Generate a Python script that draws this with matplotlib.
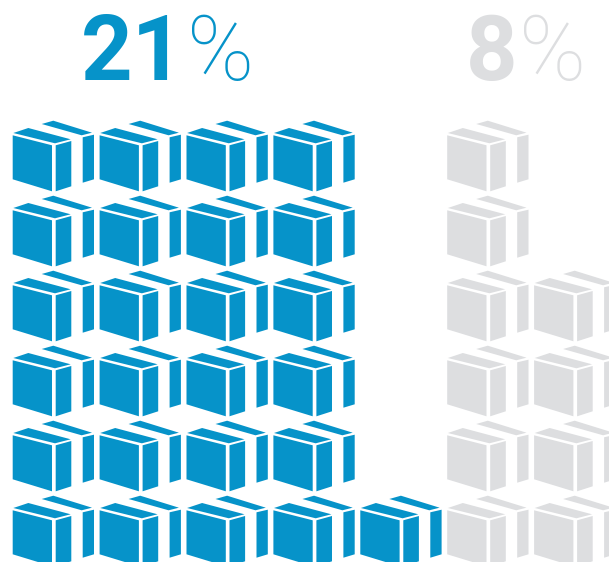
import matplotlib
matplotlib.use("Agg")
import matplotlib.pyplot as plt
from matplotlib.patches import Polygon

labels = ["21", "8"]
blue = "#0693c9"
grey = "#dddee0"

# boxes stacked in each column, counted from the bottom row
blue_counts = [6, 6, 6, 6, 1]
grey_counts = [6, 4]

W = 609
H = 562
col_pitch = 86.9
row_pitch = 75.0
x0 = 12.7
y0 = 510.3

# the box drawing, pixels from the top left of the front face
box_parts = [
    [(0, 0), (39.3, 10), (39.3, 56), (0, 44)],
    [(43, 10), (58.6, 5.7), (58.6, 51), (43, 56)],
    [(70, 2), (81.3, -0.6), (81.3, 44), (70, 47.4)],
    [(0.6, -2.3), (15.6, -7.3), (58, 4), (42.3, 8)],
    [(29, -11.3), (40.6, -14.6), (79.3, -2.6), (69, 0)],
]


def draw_box(ax, col, row, color):
    # col and row are grid units, row 0 at the bottom
    for part in box_parts:
        pts = [(col + px / col_pitch, row - py / row_pitch) for px, py in part]
        ax.add_patch(Polygon(pts, closed=True, fc=color, ec="none"))


fig = plt.figure(figsize=(W / 100, H / 100), dpi=100)
ax = fig.add_axes([0, 0, 1, 1])
ax.set_xlim(-x0 / col_pitch, (W - x0) / col_pitch)
ax.set_ylim(-(H - y0) / row_pitch, y0 / row_pitch)
ax.axis("off")

for c, n in enumerate(blue_counts):
    for r in range(n):
        draw_box(ax, c, r, blue)

grey_start = len(blue_counts)
for c, n in enumerate(grey_counts):
    for r in range(n):
        draw_box(ax, grey_start + c, r, grey)


def px(x, y):
    return (x - x0) / col_pitch, (y0 - y) / row_pitch


tx, ty = px(184, 80)
ax.text(tx, ty, labels[0], color=blue, fontsize=65, fontweight="bold",
        family="Roboto", ha="right", va="baseline")
tx, ty = px(187, 80)
ax.text(tx, ty, "%", color=blue, fontsize=65, fontweight="light",
        family="Roboto", ha="left", va="baseline")

tx, ty = px(518, 80)
ax.text(tx, ty, labels[1], color=grey, fontsize=65, fontweight="bold",
        family="Roboto", ha="right", va="baseline")
tx, ty = px(519, 80)
ax.text(tx, ty, "%", color=grey, fontsize=65, fontweight="light",
        family="Roboto", ha="left", va="baseline")

fig.savefig("out.png", dpi=100)
